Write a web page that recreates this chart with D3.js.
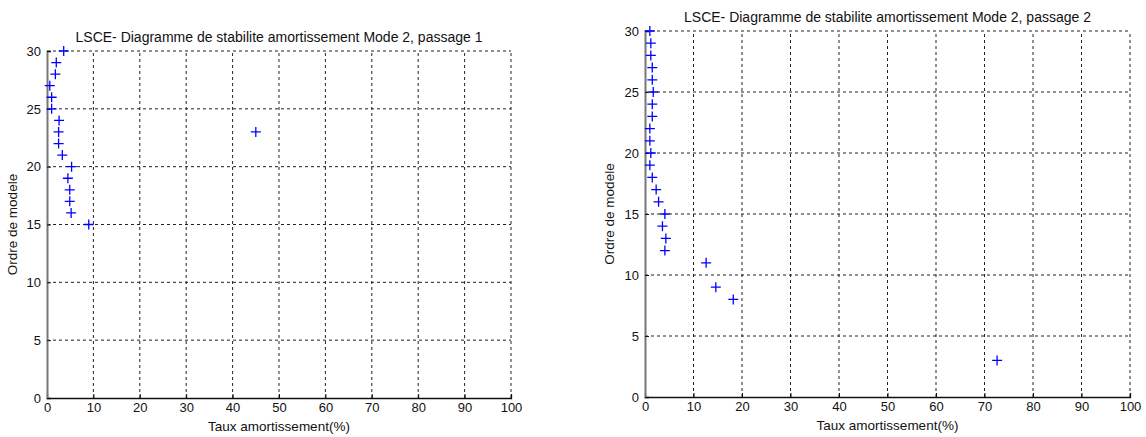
<!doctype html>
<html>
<head>
<style>
  body { margin: 0; background: #fff; }
  svg { display: block; font-family: "Liberation Sans", Arial, sans-serif; }
  .grid line { stroke: #222; stroke-dasharray: 3,3; stroke-width: 1; }
  .tick text { font-size: 13px; fill: #111; }
  .ttl { font-size: 14px; fill: #111; }
  .lbl { font-size: 13.5px; fill: #111; }
</style>
</head>
<body>
<svg id="chart" width="1146" height="437"></svg>
<script src="https://d3js.org/d3.v7.min.js"></script>
<script>
// passage 1
var order1 = [30, 29, 28, 27, 26, 25, 24, 23, 22, 21, 20, 19, 18, 17, 16, 15, 23];
var damp1  = [3.6, 2.0, 1.8, 0.6, 1.0, 1.0, 2.6, 2.5, 2.5, 3.3, 5.3, 4.5, 4.9, 4.9, 5.2, 9.0, 45.0];
// passage 2
var order2 = [30, 29, 28, 27, 26, 25, 24, 23, 22, 21, 20, 19, 18, 17, 16, 15, 14, 13, 12, 11, 9, 8, 3];
var damp2  = [1.0, 1.2, 1.2, 1.5, 1.5, 1.7, 1.5, 1.5, 1.0, 1.0, 1.2, 1.0, 1.5, 2.3, 2.8, 4.1, 3.6, 4.3, 4.1, 12.6, 14.6, 18.2, 72.6];

var xTicks = [0, 10, 20, 30, 40, 50, 60, 70, 80, 90, 100];
var yTicks = [0, 5, 10, 15, 20, 25, 30];

var svg = d3.select("#chart");

function drawPanel(cfg) {
  var x = d3.scaleLinear().domain([0, 100]).range([cfg.left, cfg.right]);
  var y = d3.scaleLinear().domain([0, 30]).range([cfg.bottom, cfg.top]);
  var g = svg.append("g");

  // grid
  var grid = g.append("g").attr("class", "grid");
  grid.selectAll("line.v").data(xTicks.slice(1)).enter().append("line")
    .attr("class", "v")
    .attr("x1", function(d) { return x(d); }).attr("x2", function(d) { return x(d); })
    .attr("y1", cfg.bottom).attr("y2", cfg.top);
  grid.selectAll("line.h").data(yTicks.slice(1)).enter().append("line")
    .attr("class", "h")
    .attr("x1", cfg.left).attr("x2", cfg.right)
    .attr("y1", function(d) { return y(d); }).attr("y2", function(d) { return y(d); });

  // axes
  var xAxis = d3.axisBottom(x).tickValues(xTicks).tickSize(-4).tickPadding(5);
  var yAxis = d3.axisLeft(y).tickValues(yTicks).tickSize(-4).tickPadding(6);
  var ga = g.append("g").attr("transform", "translate(0," + cfg.bottom + ")").call(xAxis);
  ga.select(".domain").attr("stroke", "#111").attr("stroke-width", 1.3);
  ga.selectAll(".tick line").attr("stroke", "#111");
  var gy = g.append("g").attr("transform", "translate(" + cfg.left + ",0)").call(yAxis);
  gy.select(".domain").attr("stroke", "#777").attr("stroke-width", 2);
  gy.selectAll(".tick line").attr("stroke", "#111");
  svg.selectAll(".tick text").attr("font-family", null).attr("font-size", null);

  // markers
  var pts = cfg.damp.map(function(d, i) { return [d, cfg.order[i]]; });
  g.selectAll("path.pt").data(pts).enter().append("path")
    .attr("class", "pt")
    .attr("d", function(d) {
      var cx = x(d[0]), cy = y(d[1]), r = 5;
      return "M" + (cx - r) + "," + cy + "H" + (cx + r) + "M" + cx + "," + (cy - r) + "V" + (cy + r);
    })
    .attr("stroke", "#0000ff").attr("stroke-width", 1.3).attr("fill", "none");

  g.append("text").attr("class", "ttl")
    .attr("x", (cfg.left + cfg.right) / 2).attr("y", cfg.top - 9)
    .attr("text-anchor", "middle").text(cfg.title);
  g.append("text").attr("class", "lbl")
    .attr("x", (cfg.left + cfg.right) / 2).attr("y", cfg.bottom + 33)
    .attr("text-anchor", "middle").text("Taux amortissement(%)");
  g.append("text").attr("class", "lbl")
    .attr("transform", "translate(" + cfg.ylabX + "," + ((cfg.top + cfg.bottom) / 2) + ") rotate(-90)")
    .attr("text-anchor", "middle").text("Ordre de modele");
}

drawPanel({ left: 47, right: 511, top: 51, bottom: 398, ylabX: 17, order: order1, damp: damp1,
  title: "LSCE- Diagramme de stabilite amortissement Mode 2, passage 1" });
drawPanel({ left: 645, right: 1130, top: 31, bottom: 397, ylabX: 614, order: order2, damp: damp2,
  title: "LSCE- Diagramme de stabilite amortissement Mode 2, passage 2" });
</script>
</body>
</html>
